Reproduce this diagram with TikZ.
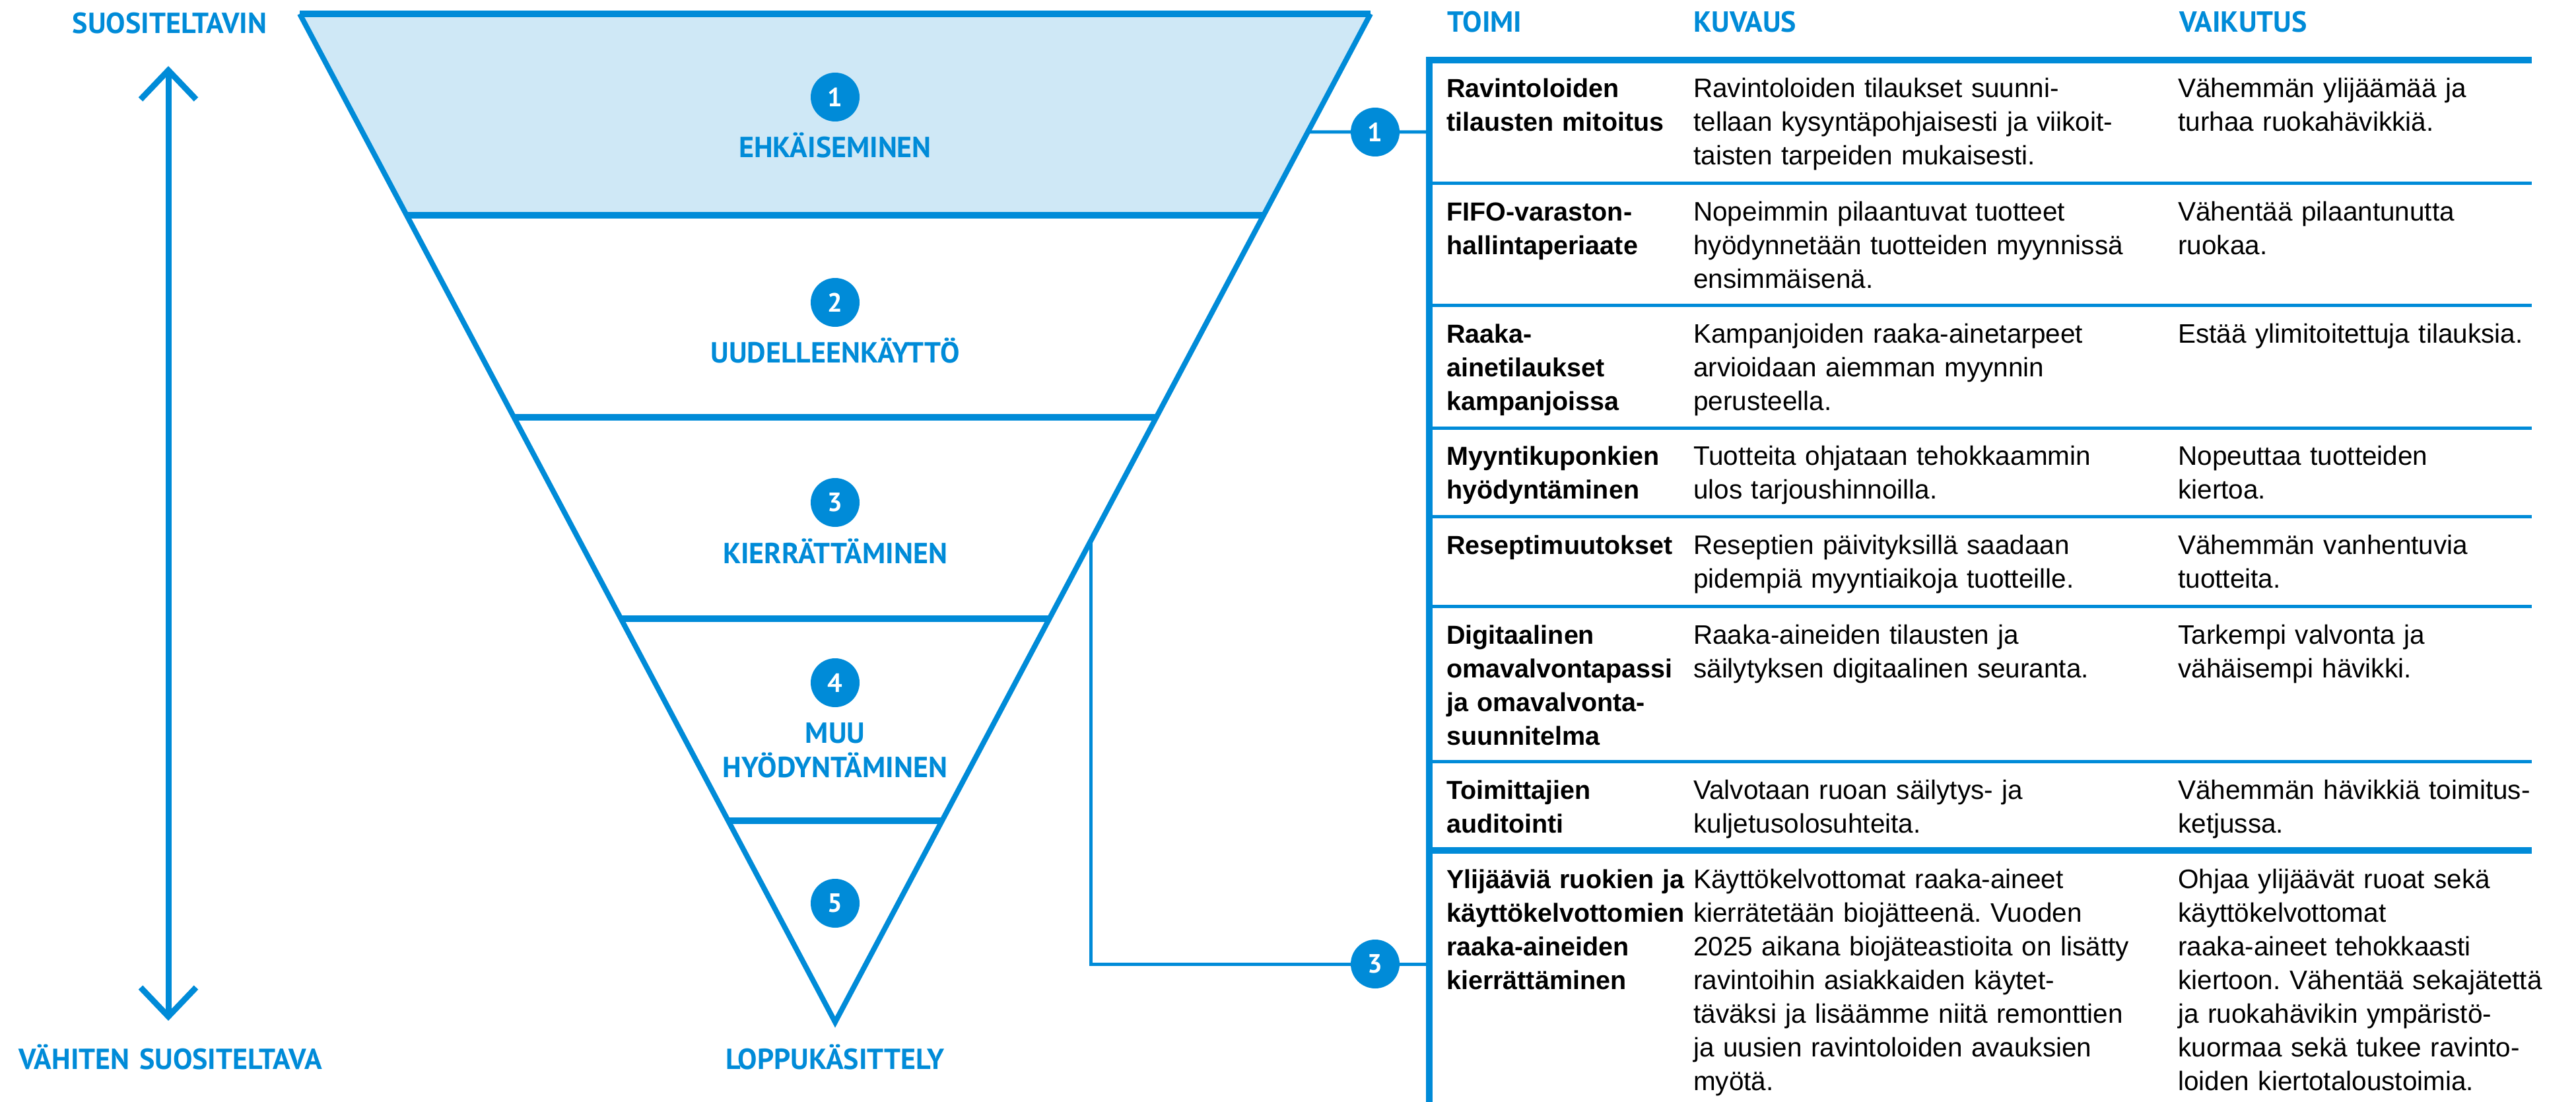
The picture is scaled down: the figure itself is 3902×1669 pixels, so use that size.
\documentclass[tikz,border=0pt]{standalone}
\usepackage{fontspec}
\setmainfont{Liberation Sans}
\newfontfamily\dinfont{PT Sans}
\usetikzlibrary{positioning}
\usetikzlibrary{calc}
\usetikzlibrary{arrows.meta}
\definecolor{brand}{HTML}{008BD8}
\definecolor{brandlight}{HTML}{CFE8F6}
\frenchspacing
\tikzset{num node/.style={circle,fill=brand,minimum size=74pt,inner sep=0pt,text=white,font=\dinfont\bfseries\fontsize{40}{40}\selectfont}}
\tikzset{lvl text/.style={anchor=base,inner sep=0pt,text width=520pt,align=center,text=brand,font=\dinfont\bfseries\fontsize{44}{52}\selectfont}}
\tikzset{head text/.style={anchor=base west,inner sep=0pt,text=brand,font=\dinfont\bfseries\fontsize{44}{52}\selectfont}}
\tikzset{cell/.style={anchor=base west,inner sep=0pt,text width=760pt,align=left,font=\fontsize{40.5}{51}\selectfont}}
\tikzset{bold cell/.style={cell,font=\bfseries\fontsize{39.5}{51}\selectfont}}
\tikzset{thick rule/.style={brand,line width=10pt}, thin rule/.style={brand,line width=5pt}}

\begin{document}
\begin{tikzpicture}[x=1pt,y=-1pt]
    \useasboundingbox[fill=white] (0,0) rectangle (3902,1669);

    % funnel
    \coordinate (ftl) at (454,21);
    \coordinate (ftr) at (2076,21);
    \coordinate (fap) at (1265,1548);
    \fill[brandlight] (ftl) -- (ftr) -- ($(ftr)!0.2!(fap)$) -- ($(ftl)!0.2!(fap)$) -- cycle;
    \draw[brand,line width=8pt,miter limit=20] (ftl) -- (fap) -- (ftr);
    \foreach \f in {0,0.2,0.4,0.6,0.8}
        \draw[thick rule] ($(ftl)!\f!(fap)$) -- ($(ftr)!\f!(fap)$);

    \node[num node] (c_{1}) at (1265,147) {1};
    \node[num node] (c_{2}) at (1265,458) {2};
    \node[num node] (c_{3}) at (1265,761) {3};
    \node[num node] (c_{4}) at (1265,1034) {4};
    \node[num node] (c_{5}) at (1265,1368) {5};
    \node[lvl text,yshift=-92pt] (l_{1}) at (c_{1}) {EHKÄISEMINEN};
    \node[lvl text,yshift=-91pt] (l_{2}) at (c_{2}) {UUDELLEENKÄYTTÖ};
    \node[lvl text,yshift=-92pt] (l_{3}) at (c_{3}) {KIERRÄTTÄMINEN};
    \node[lvl text,yshift=-91pt] (l_{4}) at (c_{4}) {MUU\\HYÖDYNTÄMINEN};
    \node[lvl text] (l_{5}) at (1265,1619) {LOPPUKÄSITTELY};

    % preference arrow
    \node[lvl text] (s_{1}) at (257,51) {SUOSITELTAVIN};
    \node[lvl text] (s_{2}) at (258,1619) {VÄHITEN SUOSITELTAVA};
    \coordinate (a_{1}) at (255,100);
    \coordinate (a_{2}) at (255,1546);
    \draw[brand,line width=9pt,{Straight Barb[length=44pt,width=84pt]}-{Straight Barb[length=44pt,width=84pt]}] (a_{1}) -- (a_{2});

    % table
    \node[head text] (h_{1}) at (2192,49) {TOIMI};
    \node[head text] (h_{2}) at (2565,49) {KUVAUS};
    \node[head text] (h_{3}) at (3301,49) {VAIKUTUS};
    \draw[thick rule] (2165,86) -- (2165,1669);
    \draw[thick rule] (2160,91) -- (3835,91);
    \foreach \y in {278,462,648,782,918,1153}
        \draw[thin rule] (2165,\y) -- (3835,\y);
    \draw[thick rule] (2165,1288) -- (3835,1288);

    \node[bold cell] (r_{1}) at (2191,148) {Ravintoloiden\\tilausten mitoitus};
    \node[cell] (d_{1}) at (2565,148) {Ravintoloiden tilaukset suunni-\\tellaan kysyntäpohjaisesti ja viikoit-\\taisten tarpeiden mukaisesti.};
    \node[cell] (e_{1}) at (3299,148) {Vähemmän ylijäämää ja\\turhaa ruokahävikkiä.};

    \node[bold cell] (r_{2}) at (2191,335) {FIFO-varaston-\\hallintaperiaate};
    \node[cell] (d_{2}) at (2565,335) {Nopeimmin pilaantuvat tuotteet\\hyödynnetään tuotteiden myynnissä\\ensimmäisenä.};
    \node[cell] (e_{2}) at (3299,335) {Vähentää pilaantunutta\\ruokaa.};

    \node[bold cell] (r_{3}) at (2191,519) {Raaka-\\ainetilaukset\\kampanjoissa};
    \node[cell] (d_{3}) at (2565,519) {Kampanjoiden raaka-ainetarpeet\\arvioidaan aiemman myynnin\\perusteella.};
    \node[cell] (e_{3}) at (3299,519) {Estää ylimitoitettuja tilauksia.};

    \node[bold cell] (r_{4}) at (2191,704) {Myyntikuponkien\\hyödyntäminen};
    \node[cell] (d_{4}) at (2565,704) {Tuotteita ohjataan tehokkaammin\\ulos tarjoushinnoilla.};
    \node[cell] (e_{4}) at (3299,704) {Nopeuttaa tuotteiden\\kiertoa.};

    \node[bold cell] (r_{5}) at (2191,839) {Reseptimuutokset};
    \node[cell] (d_{5}) at (2565,839) {Reseptien päivityksillä saadaan\\pidempiä myyntiaikoja tuotteille.};
    \node[cell] (e_{5}) at (3299,839) {Vähemmän vanhentuvia\\tuotteita.};

    \node[bold cell] (r_{6}) at (2191,975) {Digitaalinen\\omavalvontapassi\\ja omavalvonta-\\suunnitelma};
    \node[cell] (d_{6}) at (2565,975) {Raaka-aineiden tilausten ja\\säilytyksen digitaalinen seuranta.};
    \node[cell] (e_{6}) at (3299,975) {Tarkempi valvonta ja\\vähäisempi hävikki.};

    \node[bold cell] (r_{7}) at (2191,1210) {Toimittajien\\auditointi};
    \node[cell] (d_{7}) at (2565,1210) {Valvotaan ruoan säilytys- ja\\kuljetusolosuhteita.};
    \node[cell] (e_{7}) at (3299,1210) {Vähemmän hävikkiä toimitus-\\ketjussa.};

    \node[bold cell] (r_{8}) at (2191,1345) {Ylijääviä ruokien ja\\käyttökelvottomien\\raaka-aineiden\\kierrättäminen};
    \node[cell] (d_{8}) at (2565,1345) {Käyttökelvottomat raaka-aineet\\kierrätetään biojätteenä. Vuoden\\2025 aikana biojäteastioita on lisätty\\ravintoihin asiakkaiden käytet-\\täväksi ja lisäämme niitä remonttien\\ja uusien ravintoloiden avauksien\\myötä.};
    \node[cell] (e_{8}) at (3299,1345) {Ohjaa ylijäävät ruoat sekä\\käyttökelvottomat\\raaka-aineet tehokkaasti\\kiertoon. Vähentää sekajätettä\\ja ruokahävikin ympäristö-\\kuormaa sekä tukee ravinto-\\loiden kiertotaloustoimia.};

    % links from funnel to table
    \coordinate (f_{1}) at ($(ftr)!0.1172!(fap)$);
    \coordinate (f_{3}) at ($(ftr)!0.522!(fap)$);
    \node[num node] (n_{1}) at (2083,200) {1};
    \node[num node] (n_{3}) at (2083,1460) {3};
    \coordinate (t_{1}) at (2165,200);
    \coordinate (t_{3}) at (2165,1460);
    \draw[thin rule] (f_{1}) -- (n_{1}) -- (t_{1});
    \draw[thin rule] (f_{3}) |- (n_{3}) -- (t_{3});
\end{tikzpicture}
\end{document}
